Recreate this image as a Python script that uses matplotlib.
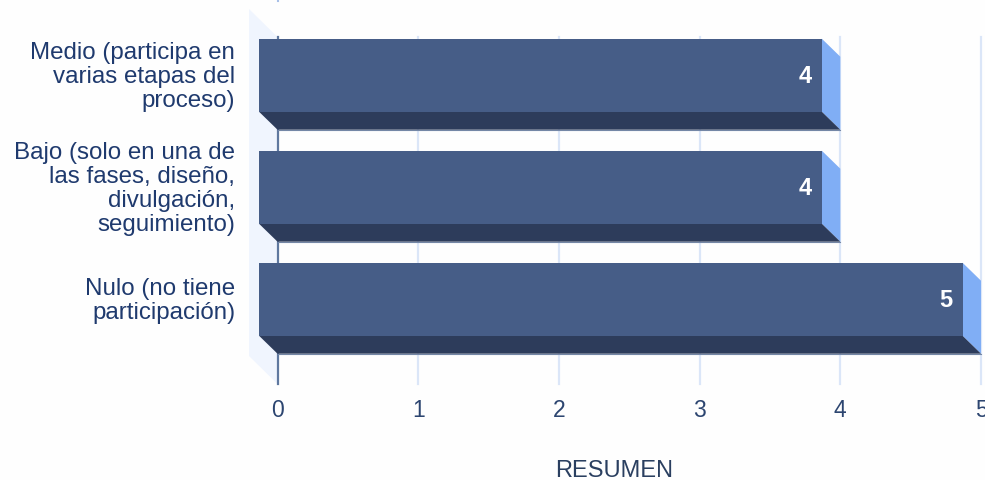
import matplotlib
matplotlib.use("Agg")
import matplotlib.pyplot as plt
from matplotlib.patches import Polygon

plt.rcParams['font.family'] = ['Liberation Sans', 'DejaVu Sans']

categories = [
    "Medio (participa en\nvarias etapas del\nproceso)",
    "Bajo (solo en una de\nlas fases, diseño,\ndivulgación,\nseguimiento)",
    "Nulo (no tiene\nparticipación)",
]
values = [4, 4, 5]
xticks = [0, 1, 2, 3, 4, 5]
xlabel = "RESUMEN"

W, H = 985, 481
# plot area in pixels (back wall of the 3d box)
left, right, top, bottom = 277.5, 981, 38, 385
unitX = (right - left) / 5
unitY = 112
depthX = 18.5 / unitX
depthY = 18 / unitY
wallX = 28.5 / unitX
wallY = 28 / unitY
barH = 73 / unitY

fig = plt.figure(figsize=(W / 100, H / 100), dpi=100, facecolor="#fefefe")
ax = fig.add_axes([left / W, 1 - bottom / H, (right - left) / W, (bottom - top) / H])
ax.set_facecolor("none")
ax.set_xlim(0, 5)
ax.set_ylim((bottom - 94.2) / unitY, (top - 94.2) / unitY)

for s in ax.spines.values():
    s.set_visible(False)

ylo, yhi = ax.get_ylim()

# side wall
ax.add_patch(Polygon([(-wallX, yhi - wallY), (0, yhi), (0, ylo), (-wallX, ylo - wallY)],
                     closed=True, facecolor="#f0f5fe", edgecolor="none", clip_on=False, zorder=0))

for x in xticks:
    color = "#5f789f" if x == 0 else "#dbe6f8"
    ax.axvline(x, color=color, lw=1.6, zorder=1, clip_on=False)

# tiny bit of something cut off at the top of the original
ax.plot([0, 0], [yhi - 38 / unitY, yhi - 36 / unitY], color="#a8c0e8", lw=1.5, clip_on=False)

for i, v in enumerate(values):
    yBack0 = i - barH / 2
    yBack1 = i + barH / 2
    yFront0 = yBack0 - depthY
    yFront1 = yBack1 - depthY
    xFront = v - depthX

    ax.add_patch(Polygon([(xFront, yFront0), (v, yBack0), (v, yBack1), (xFront, yFront1)],
                         closed=True, facecolor="#80aef5", edgecolor="none", zorder=2, clip_on=False))
    ax.add_patch(Polygon([(-depthX, yFront1), (xFront, yFront1), (v, yBack1), (0, yBack1)],
                         closed=True, facecolor="#2d3c5b", edgecolor="none", zorder=2, clip_on=False))
    ax.plot([0, v], [yBack1, yBack1], color="#7487a6", lw=0.8, zorder=2, clip_on=False)
    ax.add_patch(Polygon([(-depthX, yFront0), (xFront, yFront0), (xFront, yFront1), (-depthX, yFront1)],
                         closed=True, facecolor="#465d87", edgecolor="none", zorder=3, clip_on=False))
    ax.text(xFront - 10.5 / unitX, i - depthY, str(v), color="white", fontsize=17, fontweight="bold",
            ha="right", va="center", zorder=4)

# labels sit a little above the middle of the bar front
ax.set_yticks([i - depthY - 2.5 / unitY for i in range(len(categories))])
ax.set_yticklabels(categories, fontsize=17.4, color="#1f3a6e", linespacing=1.115, ha="right", multialignment="right")
ax.tick_params(axis="y", length=0, pad=30.5)

ax.set_xticks(xticks)
ax.set_xticklabels([str(x) for x in xticks], fontsize=16.5, color="#2c4570")
ax.tick_params(axis="x", length=0, pad=10)

ax.set_xlabel(xlabel, fontsize=17, color="#2a3f60", x=(614 - left) / (right - left), labelpad=27.5)

fig.savefig("out.png", dpi=100, facecolor=fig.get_facecolor())
